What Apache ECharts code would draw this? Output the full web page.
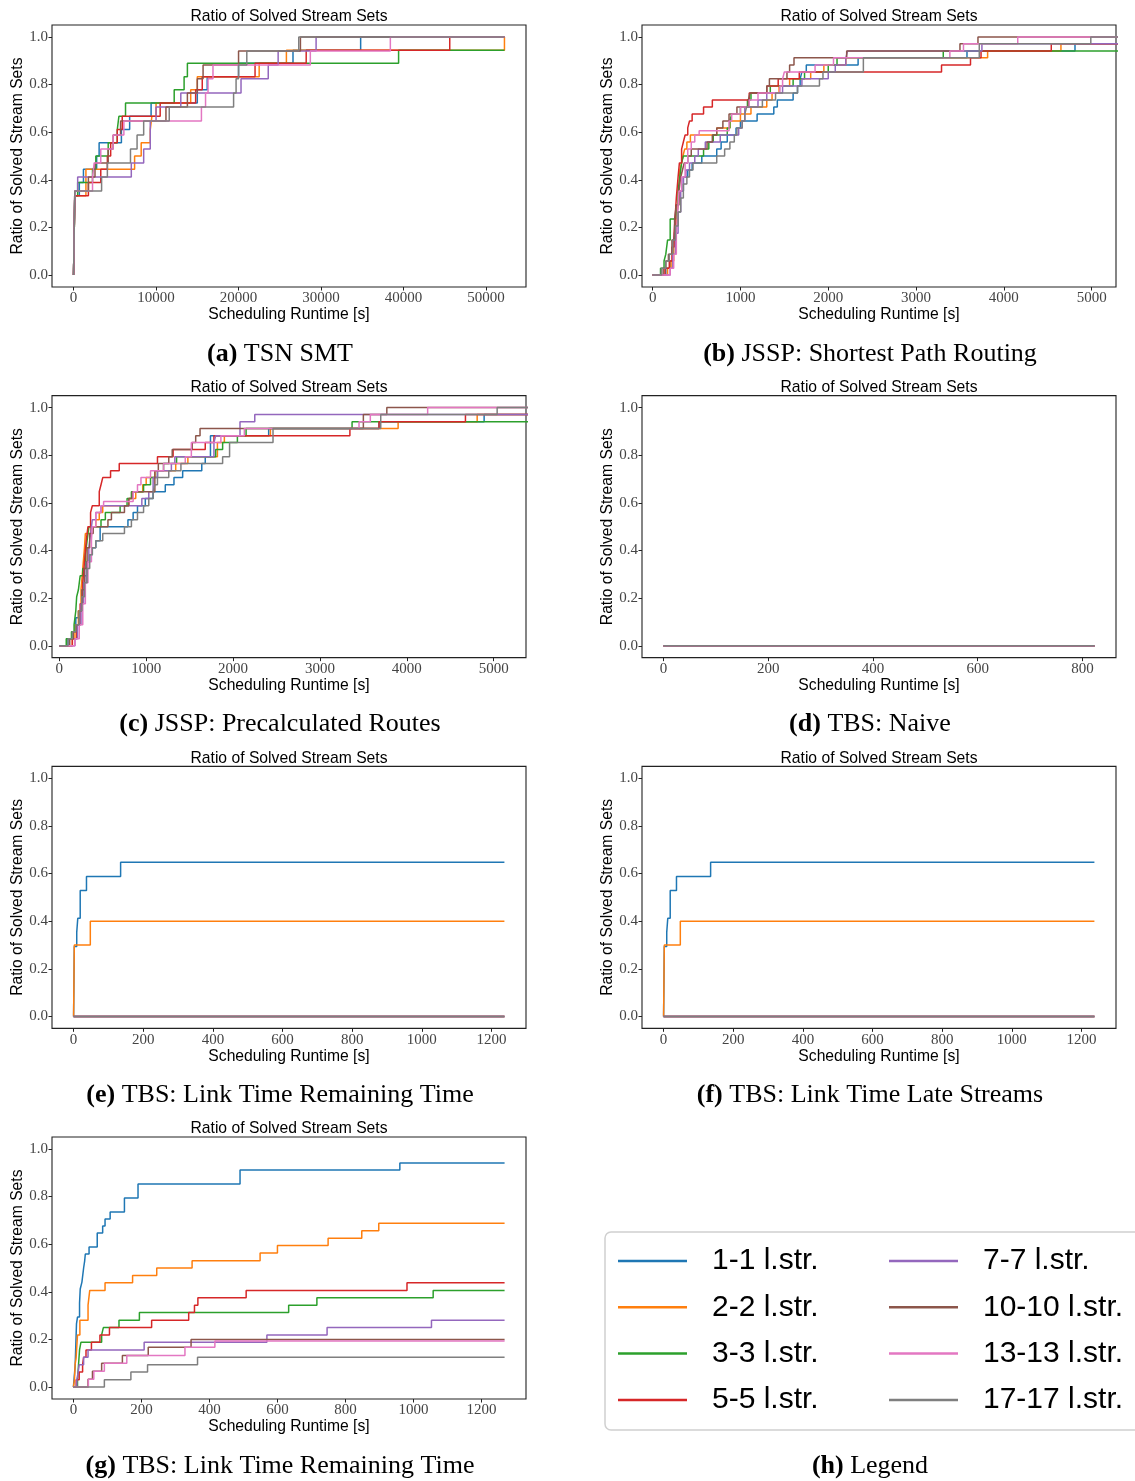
<!DOCTYPE html>
<html><head><meta charset="utf-8">
<script src="https://cdn.jsdelivr.net/npm/echarts@6/dist/echarts.min.js"></script>
<style>html,body{margin:0;padding:0;background:#fff}#c{width:1135px;height:1481px}</style>
</head><body><div id="c"></div>
<script>
const seriesNames = ['1-1 l.str.','2-2 l.str.','3-3 l.str.','5-5 l.str.','7-7 l.str.','10-10 l.str.','13-13 l.str.','17-17 l.str.'];
const colors = ['#1f77b4','#ff7f0e','#2ca02c','#d62728','#9467bd','#8c564b','#e377c2','#7f7f7f'];
const yTicks = [0, 0.2, 0.4, 0.6, 0.8, 1.0];
const xTicksA = [0, 10000, 20000, 30000, 40000, 50000];
const xTicksBC = [0, 1000, 2000, 3000, 4000, 5000];
const xTicksD = [0, 200, 400, 600, 800];
const xTicksEFG = [0, 200, 400, 600, 800, 1000, 1200];
const plotTitle = 'Ratio of Solved Stream Sets';
const xName = 'Scheduling Runtime [s]';
const yName = 'Ratio of Solved Stream Sets';

// (a) TSN SMT
const tsnSmt = [
 [[0,0],[150,0.333],[700,0.389],[1200,0.444],[2800,0.5],[3100,0.556],[5800,0.611],[6800,0.667],[9400,0.722],[15000,0.778],[16200,0.833],[20000,0.889],[26600,0.944],[34800,1],[52231,1]],
 [[0,0],[150,0.333],[1500,0.444],[7400,0.5],[8200,0.556],[9300,0.611],[9500,0.667],[10000,0.722],[14200,0.778],[15000,0.833],[22500,0.889],[25800,0.944],[52231,1]],
 [[0,0],[150,0.333],[500,0.389],[2300,0.444],[2700,0.5],[4200,0.556],[5300,0.611],[5500,0.667],[6300,0.722],[12200,0.778],[13400,0.833],[13800,0.889],[39400,0.944],[52231,0.944]],
 [[0,0],[150,0.333],[1800,0.389],[3300,0.444],[4100,0.5],[4500,0.556],[5300,0.611],[5900,0.667],[10500,0.722],[14800,0.778],[15600,0.833],[22000,0.889],[28200,0.944],[45600,1],[52231,1]],
 [[0,0],[150,0.353],[500,0.412],[7000,0.471],[8500,0.529],[9300,0.647],[10000,0.706],[13000,0.765],[20300,0.824],[23600,0.882],[24800,0.941],[29400,1],[52231,1]],
 [[0,0],[150,0.353],[1800,0.412],[2600,0.471],[4200,0.529],[4800,0.588],[5700,0.647],[11200,0.706],[13800,0.765],[15000,0.824],[15700,0.882],[20000,0.941],[27500,1],[52231,1]],
 [[0,0],[150,0.353],[2300,0.412],[2500,0.471],[3300,0.529],[4800,0.588],[6100,0.647],[15500,0.706],[16000,0.765],[16300,0.824],[16900,0.882],[28700,0.941],[38400,1],[52231,1]],
 [[0,0],[150,0.353],[3400,0.412],[4100,0.471],[6900,0.529],[7700,0.588],[8500,0.647],[11600,0.706],[19400,0.765],[19700,0.824],[20000,0.882],[21000,0.941],[27300,1],[52231,1]]
];

// (b) JSSP: Shortest Path Routing
const jsspShortest = [
 [[0,0],[150,0.029],[200,0.059],[230,0.118],[250,0.176],[270,0.235],[290,0.294],[310,0.353],[350,0.412],[400,0.441],[450,0.471],[560,0.5],[730,0.529],[780,0.559],[850,0.588],[950,0.618],[1000,0.647],[1190,0.676],[1380,0.706],[1420,0.735],[1600,0.765],[1650,0.794],[1680,0.824],[1700,0.853],[1750,0.882],[2340,0.912],[3580,0.941],[4810,0.971],[5400,0.971]],
 [[0,0],[170,0.029],[210,0.059],[240,0.118],[260,0.176],[280,0.265],[295,0.324],[310,0.441],[330,0.471],[345,0.5],[365,0.529],[390,0.559],[430,0.588],[730,0.618],[880,0.647],[1000,0.676],[1120,0.706],[1300,0.735],[1360,0.765],[1440,0.794],[1560,0.824],[1800,0.853],[1950,0.882],[2200,0.912],[3815,0.941],[4650,0.971],[5400,0.971]],
 [[0,0],[90,0.029],[130,0.059],[150,0.088],[170,0.147],[200,0.235],[265,0.294],[290,0.353],[310,0.412],[330,0.471],[350,0.5],[580,0.529],[640,0.559],[690,0.588],[850,0.618],[880,0.647],[900,0.676],[1000,0.706],[1080,0.735],[1120,0.765],[1340,0.794],[1600,0.824],[1730,0.853],[2000,0.882],[2100,0.912],[3310,0.941],[5400,0.941]],
 [[0,0],[140,0.029],[190,0.059],[220,0.118],[245,0.176],[260,0.265],[270,0.324],[290,0.412],[305,0.471],[330,0.529],[350,0.559],[370,0.588],[400,0.618],[420,0.647],[450,0.676],[580,0.706],[680,0.735],[1100,0.765],[1300,0.794],[1430,0.824],[1670,0.853],[3290,0.882],[3620,0.912],[3740,0.941],[4540,0.971],[5400,0.971]],
 [[0,0],[200,0.029],[230,0.088],[260,0.176],[290,0.265],[320,0.353],[350,0.412],[380,0.441],[420,0.471],[480,0.5],[520,0.529],[600,0.559],[770,0.588],[980,0.618],[1020,0.647],[1050,0.706],[1200,0.735],[1300,0.765],[1480,0.794],[1700,0.824],[2000,0.853],[2080,0.882],[2200,0.912],[2220,0.941],[3750,0.971],[5400,0.971]],
 [[0,0],[120,0.029],[150,0.059],[180,0.088],[220,0.147],[250,0.235],[270,0.294],[300,0.353],[320,0.412],[340,0.441],[360,0.471],[400,0.5],[440,0.529],[620,0.559],[680,0.588],[730,0.618],[800,0.647],[870,0.676],[960,0.706],[1090,0.735],[1110,0.765],[1300,0.794],[1330,0.824],[1530,0.853],[1560,0.882],[1610,0.912],[2210,0.941],[3500,0.971],[3705,1],[5400,1]],
 [[0,0],[200,0.029],[240,0.088],[270,0.176],[285,0.265],[300,0.353],[330,0.412],[370,0.471],[400,0.529],[440,0.559],[480,0.588],[530,0.606],[870,0.647],[900,0.676],[1000,0.706],[1100,0.735],[1200,0.765],[1450,0.794],[1480,0.824],[1500,0.853],[1850,0.882],[2060,0.912],[3385,0.941],[3540,0.971],[4158,1],[5400,1]],
 [[0,0],[100,0.029],[150,0.059],[190,0.088],[230,0.147],[260,0.206],[290,0.265],[320,0.324],[350,0.382],[390,0.412],[420,0.441],[460,0.471],[730,0.5],[820,0.529],[880,0.559],[930,0.588],[960,0.618],[1020,0.647],[1050,0.676],[1070,0.706],[1250,0.735],[1400,0.765],[1650,0.794],[1900,0.824],[1940,0.853],[2400,0.912],[3720,0.971],[4990,1],[5400,1]]
];

// (c) JSSP: Precalculated Routes
const jsspPrecalc = [
 [[0,0],[100,0.029],[160,0.059],[190,0.118],[220,0.147],[260,0.235],[290,0.294],[320,0.353],[350,0.382],[380,0.412],[420,0.441],[470,0.5],[790,0.529],[850,0.559],[900,0.588],[990,0.618],[1080,0.647],[1220,0.676],[1320,0.706],[1420,0.735],[1640,0.765],[1680,0.794],[1740,0.882],[2410,0.912],[3680,0.941],[4890,0.971],[5500,0.971]],
 [[0,0],[150,0.029],[180,0.088],[220,0.147],[250,0.235],[270,0.324],[290,0.412],[300,0.471],[360,0.5],[420,0.529],[460,0.559],[500,0.588],[800,0.618],[880,0.647],[960,0.676],[1000,0.706],[1100,0.735],[1340,0.765],[1480,0.794],[1820,0.853],[1900,0.882],[2430,0.912],[3900,0.941],[4810,0.971],[5500,0.971]],
 [[0,0],[80,0.029],[140,0.059],[170,0.088],[190,0.147],[200,0.206],[220,0.235],[240,0.294],[270,0.324],[300,0.382],[320,0.441],[340,0.5],[480,0.529],[530,0.559],[700,0.588],[780,0.618],[830,0.647],[970,0.676],[1050,0.706],[1130,0.735],[1200,0.765],[1350,0.794],[1800,0.824],[1880,0.853],[2050,0.882],[2150,0.912],[3370,0.941],[5500,0.941]],
 [[0,0],[150,0.029],[200,0.088],[240,0.176],[270,0.265],[290,0.353],[310,0.441],[330,0.5],[360,0.559],[380,0.588],[460,0.647],[480,0.676],[500,0.706],[590,0.735],[690,0.765],[1130,0.794],[1310,0.824],[1680,0.853],[1780,0.882],[3345,0.912],[3680,0.941],[4675,0.971],[5500,0.971]],
 [[0,0],[180,0.029],[210,0.088],[250,0.176],[280,0.265],[310,0.353],[340,0.412],[360,0.471],[380,0.529],[420,0.559],[480,0.588],[950,0.618],[1030,0.647],[1080,0.706],[1130,0.735],[1290,0.765],[1330,0.794],[1780,0.853],[1800,0.882],[2080,0.941],[2250,0.971],[5500,0.971]],
 [[0,0],[120,0.029],[160,0.059],[190,0.088],[230,0.147],[260,0.235],[290,0.324],[320,0.412],[350,0.471],[390,0.5],[560,0.529],[600,0.559],[750,0.588],[800,0.618],[840,0.647],[1100,0.735],[1140,0.765],[1260,0.794],[1300,0.824],[1530,0.853],[1570,0.882],[1620,0.912],[3500,0.971],[3770,1],[5500,1]],
 [[0,0],[180,0.029],[230,0.088],[270,0.176],[300,0.265],[330,0.353],[370,0.441],[380,0.5],[420,0.559],[480,0.588],[510,0.606],[850,0.647],[900,0.676],[940,0.706],[1050,0.735],[1200,0.765],[1450,0.794],[1520,0.853],[1860,0.882],[2130,0.912],[3450,0.941],[3580,0.971],[4240,1],[5500,1]],
 [[0,0],[100,0.029],[150,0.059],[190,0.088],[230,0.147],[260,0.206],[290,0.265],[320,0.324],[350,0.382],[380,0.412],[420,0.441],[500,0.471],[750,0.5],[830,0.529],[900,0.559],[970,0.588],[1030,0.618],[1080,0.647],[1100,0.676],[1130,0.706],[1260,0.735],[1400,0.765],[1880,0.794],[1960,0.853],[2460,0.912],[3700,0.971],[5040,1],[5500,1]]
];

// (d) TBS: Naive
const tbsNaive = [
 [[0,0],[823,0]],[[0,0],[823,0]],[[0,0],[823,0]],[[0,0],[823,0]],
 [[0,0],[823,0]],[[0,0],[823,0]],[[0,0],[823,0]],[[0,0],[823,0]]
];

// (e) TBS: Link Time Remaining Time
const tbsLinkRemaining = [
 [[0,0],[2,0.294],[9,0.353],[12,0.412],[19,0.529],[37,0.588],[135,0.647],[1237,0.647]],
 [[0,0],[2,0.3],[48,0.4],[1237,0.4]],
 [[0,0],[1237,0]],[[0,0],[1237,0]],[[0,0],[1237,0]],[[0,0],[1237,0]],[[0,0],[1237,0]],[[0,0],[1237,0]]
];

// (f) TBS: Link Time Late Streams
const tbsLinkLate = [
 [[0,0],[2,0.294],[9,0.353],[12,0.412],[19,0.529],[37,0.588],[135,0.647],[1237,0.647]],
 [[0,0],[2,0.3],[48,0.4],[1237,0.4]],
 [[0,0],[1237,0]],[[0,0],[1237,0]],[[0,0],[1237,0]],[[0,0],[1237,0]],[[0,0],[1237,0]],[[0,0],[1237,0]]
];

// (g) TBS: Link Time Remaining Time (second)
const tbsLinkRemaining2 = [
 [[0,0],[5,0.088],[7,0.176],[9,0.265],[12,0.294],[18,0.353],[20,0.412],[25,0.441],[30,0.5],[33,0.529],[35,0.559],[46,0.588],[70,0.647],[86,0.676],[93,0.706],[108,0.735],[150,0.794],[190,0.853],[490,0.912],[960,0.941],[1268,0.941]],
 [[0,0],[3,0.031],[5,0.094],[8,0.125],[12,0.219],[19,0.281],[43,0.344],[48,0.406],[93,0.438],[174,0.469],[245,0.5],[349,0.531],[549,0.563],[600,0.594],[749,0.625],[848,0.656],[898,0.688],[1268,0.688]],
 [[0,0],[12,0.031],[15,0.094],[18,0.156],[22,0.188],[83,0.219],[88,0.25],[134,0.281],[194,0.313],[633,0.344],[716,0.375],[1058,0.406],[1268,0.406]],
 [[0,0],[8,0.031],[17,0.063],[27,0.094],[30,0.125],[37,0.156],[53,0.188],[78,0.219],[106,0.25],[230,0.281],[339,0.313],[356,0.344],[366,0.375],[508,0.406],[981,0.438],[1268,0.438]],
 [[0,0],[10,0.031],[14,0.063],[17,0.094],[30,0.125],[43,0.156],[208,0.188],[569,0.219],[746,0.25],[1053,0.281],[1268,0.281]],
 [[0,0],[43,0.033],[56,0.067],[83,0.1],[144,0.133],[220,0.167],[346,0.2],[1268,0.2]],
 [[0,0],[44,0.033],[60,0.067],[91,0.1],[157,0.133],[328,0.167],[416,0.194],[1268,0.194]],
 [[0,0],[91,0.031],[169,0.063],[218,0.094],[365,0.125],[1268,0.125]]
];

const panels = [
 {data: tsnSmt, ticks: xTicksA, min: -2612, max: 54843, col: 0, row: 0, tag: '(a)', cap: ' TSN SMT'},
 {data: jsspShortest, ticks: xTicksBC, min: -121, max: 5277, col: 1, row: 0, tag: '(b)', cap: ' JSSP: Shortest Path Routing'},
 {data: jsspPrecalc, ticks: xTicksBC, min: -84, max: 5372, col: 0, row: 1, tag: '(c)', cap: ' JSSP: Precalculated Routes'},
 {data: tbsNaive, ticks: xTicksD, min: -41, max: 864, col: 1, row: 1, tag: '(d)', cap: ' TBS: Naive'},
 {data: tbsLinkRemaining, ticks: xTicksEFG, min: -62, max: 1299, col: 0, row: 2, tag: '(e)', cap: ' TBS: Link Time Remaining Time'},
 {data: tbsLinkLate, ticks: xTicksEFG, min: -62, max: 1299, col: 1, row: 2, tag: '(f)', cap: ' TBS: Link Time Late Streams'},
 {data: tbsLinkRemaining2, ticks: xTicksEFG, min: -63, max: 1331, col: 0, row: 3, tag: '(g)', cap: ' TBS: Link Time Remaining Time'}
];

const colLeft = [52, 642];
const colCenter = [280, 870];
const boxW = 474, boxH = 262;
const rowTop = r => 25 + r * 370.67;
const SANS = '"Liberation Sans", Arial, sans-serif';
const SERIF = '"Liberation Serif", "Times New Roman", serif';

const grid = [], xAxis = [], yAxis = [], series = [], graphic = [];
panels.forEach((p, i) => {
  const L = colLeft[p.col], T = rowTop(p.row);
  grid.push({left: L, top: T, width: boxW, height: boxH, show: true, borderColor: '#222', borderWidth: 1.1, backgroundColor: 'transparent', containLabel: false});
  xAxis.push({gridIndex: i, type: 'value', min: p.min, max: p.max, position: 'bottom',
    splitLine: {show: false}, axisLine: {show: false, onZero: false},
    axisTick: {show: true, length: 3.5, inside: false, customValues: p.ticks, lineStyle: {color: '#222', width: 1}},
    axisLabel: {customValues: p.ticks, margin: 4, fontFamily: SERIF, fontSize: 15, color: '#444', formatter: v => String(v)},
    name: xName, nameLocation: 'middle', nameGap: 19,
    nameTextStyle: {fontFamily: SANS, fontSize: 15.7, color: '#000'}});
  yAxis.push({gridIndex: i, type: 'value', min: -0.05, max: 1.05, position: 'left',
    splitLine: {show: false}, axisLine: {show: false, onZero: false},
    axisTick: {show: true, length: 3.5, customValues: yTicks, lineStyle: {color: '#222', width: 1}},
    axisLabel: {customValues: yTicks, margin: 4, fontFamily: SERIF, fontSize: 15, color: '#444', formatter: v => v.toFixed(1)},
    name: yName, nameLocation: 'middle', nameGap: 22,
    nameTextStyle: {fontFamily: SANS, fontSize: 15.7, color: '#000'}});
  p.data.forEach((d, k) => {
    series.push({type: 'line', name: seriesNames[k], xAxisIndex: i, yAxisIndex: i, data: d,
      step: 'end', showSymbol: false, symbol: 'none', clip: true,
      lineStyle: {width: 1.5, color: colors[k]}, itemStyle: {color: colors[k]}, emphasis: {disabled: true}});
  });
  graphic.push({type: 'text', x: L + boxW / 2, y: T - 8, silent: true,
    style: {text: plotTitle, fontFamily: SANS, fontSize: 15.7, fill: '#000', align: 'center', verticalAlign: 'middle'}});
  graphic.push({type: 'text', x: colCenter[p.col], y: T + 329, silent: true,
    style: {text: '{b|' + p.tag + '}' + p.cap, fontFamily: SERIF, fontSize: 26, fill: '#000', align: 'center', verticalAlign: 'middle',
      rich: {b: {fontFamily: SERIF, fontSize: 26, fontWeight: 'bold', fill: '#000'}}}});
});

// legend frame and caption
graphic.push({type: 'rect', silent: true, z: -1, shape: {x: 605, y: 1232, width: 560, height: 198, r: 6},
  style: {fill: '#fff', stroke: '#d0d0d0', lineWidth: 1.5}});
graphic.push({type: 'text', x: colCenter[1], y: rowTop(3) + 329, silent: true,
  style: {text: '{b|(h)} Legend', fontFamily: SERIF, fontSize: 26, fill: '#000', align: 'center', verticalAlign: 'middle',
    rich: {b: {fontFamily: SERIF, fontSize: 26, fontWeight: 'bold', fill: '#000'}}}});

const legendCommon = {orient: 'vertical', top: 1246, padding: 0, itemWidth: 69, itemHeight: 2.5, itemGap: 16.3, icon: 'rect',
  selectedMode: false, textStyle: {fontFamily: SANS, fontSize: 30, color: '#000', lineHeight: 30, padding: [0, 0, 0, 20]}};

const chart = echarts.init(document.getElementById('c'), null, {renderer: 'canvas'});
chart.setOption({
  animation: false,
  backgroundColor: '#fff',
  grid, xAxis, yAxis, series, graphic,
  legend: [
    Object.assign({}, legendCommon, {left: 618, data: seriesNames.slice(0, 4)}),
    Object.assign({}, legendCommon, {left: 889, data: seriesNames.slice(4)})
  ]
});
</script></body></html>
